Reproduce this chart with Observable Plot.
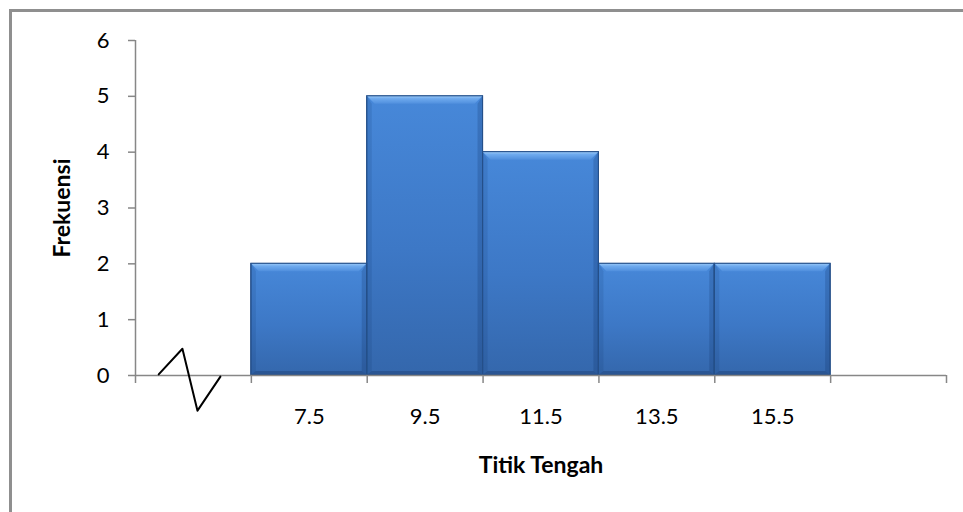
<!DOCTYPE html>
<html>
<head>
<meta charset="utf-8">
<script src="https://cdn.jsdelivr.net/npm/d3@7"></script>
<script src="https://cdn.jsdelivr.net/npm/@observablehq/plot@0.6"></script>
<style>
  html, body { margin: 0; padding: 0; background: #fff; overflow: hidden; width: 963px; height: 512px; }
  #frame { position: absolute; left: 9px; top: 9px; width: 1100px; height: 700px; border: 3px solid #8f8f8f; box-sizing: border-box; }
  #chart { position: absolute; left: 0; top: 0; }
  #chart g[aria-label$="axis tick"], #chart g[aria-label$="axis tick"] * { stroke: #878787; stroke-width: 1.5px; }
  #chart g[aria-label="y-axis"] .tick line, #chart g[aria-label="x-axis"] .tick line { stroke: #878787; stroke-width: 1.5px; }
  #chart g[aria-label="y-axis"] .domain, #chart g[aria-label="x-axis"] .domain { display: none; }
</style>
</head>
<body>
<div id="frame"></div>
<div id="chart"></div>
<script>
// ---- data ----
const labels = ["7.5", "9.5", "11.5", "13.5", "15.5"];   // class midpoints (Titik Tengah)
const freq = [2, 5, 4, 2, 2];                            // frequencies (Frekuensi)
const slots = 7;                                         // 1 axis-break slot + 5 classes + 1 empty slot
const yTicks = [0, 1, 2, 3, 4, 5, 6];
const breakX = [0.2, 0.405, 0.535, 0.733];               // axis break zigzag (scale units)
const breakY = [0.02, 0.48, -0.63, -0.02];

const bars = labels.map((l, i) => ({label: l, freq: freq[i], x1: i + 1, x2: i + 2}));
const zig = breakX.map((x, i) => ({x, y: breakY[i]}));
const axisGray = "#878787";

const chart = Plot.plot({
  width: 963,
  height: 512,
  marginLeft: 135,
  marginRight: 17,
  marginTop: 40,
  marginBottom: 137,
  style: {fontFamily: "Lato, 'Open Sans', sans-serif", fontSize: "22px", color: "#000", background: "transparent", overflow: "visible"},
  x: {domain: [0, slots], ticks: d3.range(0, slots + 1), tickSize: 8, tickFormat: () => "", label: null},
  y: {domain: [0, 6], ticks: yTicks, tickSize: 7, tickPadding: 19, tickFormat: d => String(d), label: null},
  marks: [
    Plot.rect(bars, {x1: "x1", x2: "x2", y1: 0, y2: "freq", fill: "url(#barGrad)", stroke: "#25508a", strokeWidth: 1}),
    Plot.ruleX([0], {y1: 0, y2: 6, stroke: axisGray, strokeWidth: 1.5}),
    Plot.ruleY([0], {x1: 0, x2: slots, stroke: axisGray, strokeWidth: 1.5}),
    Plot.text(bars, {x: d => d.x1 + 0.5, y: 0, dy: 41, text: "label", fill: "#000", fontSize: 22, lineAnchor: "middle"}),
    Plot.line(zig, {x: "x", y: "y", stroke: "#000", strokeWidth: 2}),
    Plot.text(["Frekuensi"], {frameAnchor: "left", dx: -73, rotate: -90, textAnchor: "middle", lineAnchor: "middle", fontWeight: "bold", fontSize: 23, fill: "#000"}),
    Plot.text(["Titik Tengah"], {frameAnchor: "bottom", dy: 90, textAnchor: "middle", lineAnchor: "middle", fontWeight: "bold", fontSize: 23, fill: "#000"})
  ]
});

// gradients + bevel on the bars drawn by Plot
const NS = "http://www.w3.org/2000/svg";
const defs = document.createElementNS(NS, "defs");
defs.innerHTML = `
  <linearGradient id="barGrad" x1="0" y1="0" x2="0" y2="1">
    <stop offset="0" stop-color="#4788d9"/>
    <stop offset="0.55" stop-color="#3d78c6"/>
    <stop offset="1" stop-color="#3467ac"/>
  </linearGradient>
  <linearGradient id="bevelTop" x1="0" y1="0" x2="0" y2="1">
    <stop offset="0" stop-color="#9ccaf7"/>
    <stop offset="0.35" stop-color="#6eaaee"/>
    <stop offset="1" stop-color="#4f8edd"/>
  </linearGradient>`;
chart.insertBefore(defs, chart.firstChild);

const rectG = chart.querySelector('g[aria-label="rect"]');
if (rectG) {
  rectG.querySelectorAll("rect").forEach(r => {
    const x = +r.getAttribute("x"), y = +r.getAttribute("y");
    const w = +r.getAttribute("width"), h = +r.getAttribute("height");
    const bt = 8, bs = 5, bb = 4;
    const poly = (pts, fill) => {
      const p = document.createElementNS(NS, "polygon");
      p.setAttribute("points", pts.map(q => q.join(",")).join(" "));
      p.setAttribute("fill", fill);
      p.setAttribute("stroke", "none");
      rectG.appendChild(p);
    };
    poly([[x, y], [x + w, y], [x + w - bt, y + bt], [x + bt, y + bt]], "url(#bevelTop)");
    poly([[x, y], [x + bs, y + bt], [x + bs, y + h - bb], [x, y + h]], "rgba(10,40,90,0.12)");
    poly([[x + w, y], [x + w - bs, y + bt], [x + w - bs, y + h - bb], [x + w, y + h]], "rgba(10,40,90,0.2)");
    poly([[x, y + h], [x + bs, y + h - bb], [x + w - bs, y + h - bb], [x + w, y + h]], "rgba(10,30,70,0.25)");
    const o = document.createElementNS(NS, "rect");
    ["x", "y", "width", "height"].forEach(a => o.setAttribute(a, r.getAttribute(a)));
    o.setAttribute("fill", "none");
    o.setAttribute("stroke", "#25508a");
    o.setAttribute("stroke-width", "1");
    rectG.appendChild(o);
  });
}

document.getElementById("chart").appendChild(chart);
</script>
</body>
</html>
